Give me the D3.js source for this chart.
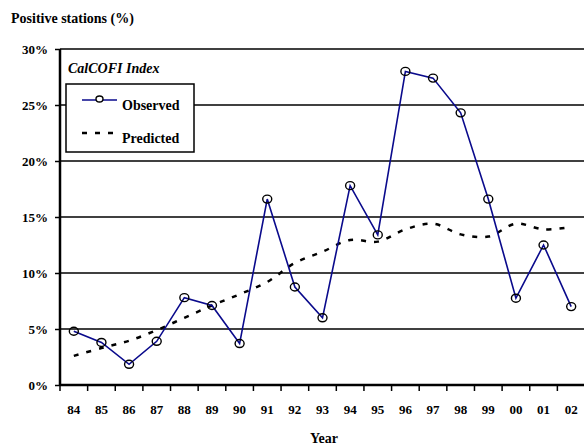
<!DOCTYPE html>
<html><head><meta charset="utf-8">
<script src="https://cdn.jsdelivr.net/npm/d3@7"></script>
</head>
<body style="margin:0;background:#fff">
<svg id="c" width="584" height="448"></svg>
<script>
const years = ["84","85","86","87","88","89","90","91","92","93","94","95","96","97","98","99","00","01","02"];
const observed = [4.8,3.8,1.85,3.9,7.8,7.1,3.7,16.6,8.75,6.0,17.8,13.4,28.0,27.4,24.3,16.6,7.75,12.5,7.0];
const predicted = [2.6,3.3,3.95,4.9,6.0,7.1,8.1,9.2,10.9,11.9,12.95,12.8,13.9,14.4,13.45,13.25,14.4,13.9,14.1];
const yTicks = [0,5,10,15,20,25,30];

const FONT = "Liberation Serif";
const svg = d3.select("#c");
const L=60, R=585, T=49, B=385;
const x = d3.scaleBand().domain(years).range([L,R]);
const y = d3.scaleLinear().domain([0,30]).range([B,T]);

function styleText(sel, size){
  sel.attr("font-family",FONT).attr("font-weight","bold").attr("font-size",size||13).attr("fill","#000");
}

// grid
svg.append("g").selectAll("line").data(yTicks.filter(d=>d>0)).join("line")
  .attr("x1",L).attr("x2",584).attr("y1",d=>y(d)).attr("y2",d=>y(d))
  .attr("stroke","#000").attr("stroke-width",1.5);

// y axis
const ya = svg.append("g").attr("transform",`translate(${L},0)`)
  .call(d3.axisLeft(y).tickValues(yTicks).tickFormat(d=>d+"%").tickSize(5).tickPadding(7));
ya.attr("font-family",FONT);
ya.select(".domain").attr("stroke","#000").attr("stroke-width",2.5).attr("d",`M0,${T}V${B}`);
ya.selectAll(".tick line").attr("stroke","#000").attr("stroke-width",1.5);
ya.selectAll("text").call(styleText,13).attr("dy","0.35em");

// x axis
const xa = svg.append("g").attr("transform",`translate(0,${B})`)
  .call(d3.axisBottom(x).tickSize(0).tickPadding(20));
xa.attr("font-family",FONT);
xa.select(".domain").attr("stroke","#000").attr("stroke-width",2.5).attr("d",`M${L},0H584`);
xa.selectAll("text").call(styleText,13);
// band boundary ticks
const bounds = years.map(d=>x(d)).concat([x(years[years.length-1])+x.bandwidth()]);
svg.append("g").selectAll("line").data(bounds).join("line")
  .attr("x1",d=>d).attr("x2",d=>d).attr("y1",B).attr("y2",B+6)
  .attr("stroke","#000").attr("stroke-width",1.5);

const cx = d=>x(d)+x.bandwidth()/2;

// predicted
svg.append("path").datum(predicted)
  .attr("d",d3.line().x((d,i)=>cx(years[i])).y(d=>y(d)).curve(d3.curveCatmullRom))
  .attr("fill","none").attr("stroke","#000").attr("stroke-width",2.5).attr("stroke-dasharray","5,8");

// observed
svg.append("path").datum(observed)
  .attr("d",d3.line().x((d,i)=>cx(years[i])).y(d=>y(d)))
  .attr("fill","none").attr("stroke","#0a0a8c").attr("stroke-width",1.6);
svg.append("g").selectAll("ellipse").data(observed).join("ellipse")
  .attr("cx",(d,i)=>cx(years[i])).attr("cy",d=>y(d)).attr("rx",4.5).attr("ry",4)
  .attr("fill","none").attr("stroke","#000").attr("stroke-width",1.4);

// title texts
svg.append("text").attr("x",11).attr("y",23).call(styleText,14).text("Positive stations (%)");
svg.append("text").attr("x",68).attr("y",73).call(styleText,14).attr("font-style","italic").text("CalCOFI Index");
svg.append("text").attr("x",324).attr("y",443).attr("text-anchor","middle").call(styleText,14).text("Year");

// legend
svg.append("rect").attr("x",66).attr("y",84).attr("width",128).attr("height",68)
  .attr("fill","#fff").attr("stroke","#000").attr("stroke-width",1.5);
svg.append("line").attr("x1",82).attr("x2",117).attr("y1",100).attr("y2",100).attr("stroke","#0a0a8c").attr("stroke-width",1.6);
svg.append("ellipse").attr("cx",99.5).attr("cy",99).attr("rx",3.5).attr("ry",3).attr("fill","#fff").attr("stroke","#000").attr("stroke-width",1.4);
svg.append("text").attr("x",122).attr("y",110).call(styleText,14).text("Observed");
svg.append("line").attr("x1",82).attr("x2",117).attr("y1",133).attr("y2",133).attr("stroke","#000").attr("stroke-width",2.5).attr("stroke-dasharray","5,8");
svg.append("text").attr("x",122).attr("y",143).call(styleText,14).text("Predicted");
</script></body></html>
